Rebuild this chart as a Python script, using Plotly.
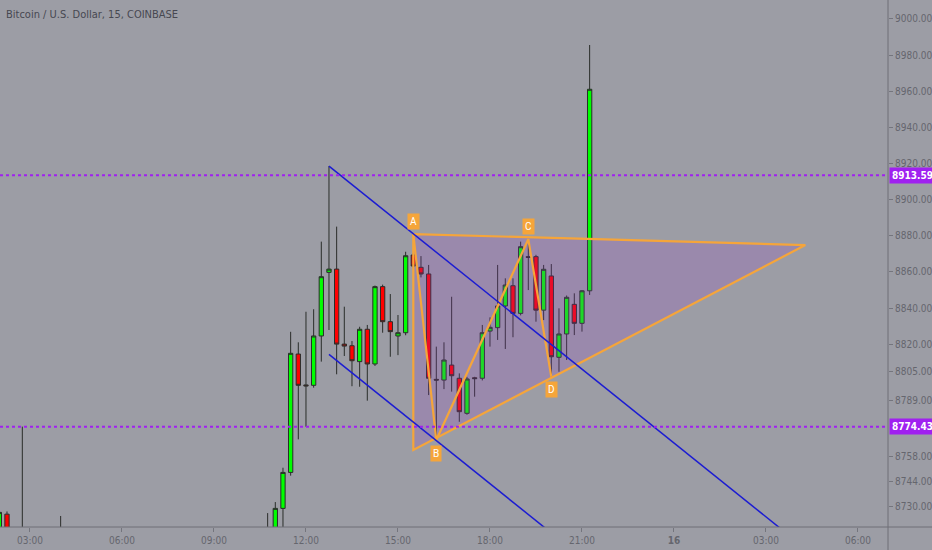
import plotly.graph_objects as go

# 15 minute candles, Bitcoin / U.S. Dollar on Coinbase
times = [
    "2020-01-15 02:00", "2020-01-15 02:15", "2020-01-15 02:45", "2020-01-15 04:00",
    "2020-01-15 10:45", "2020-01-15 11:00", "2020-01-15 11:15", "2020-01-15 11:30",
    "2020-01-15 11:45", "2020-01-15 12:00", "2020-01-15 12:15", "2020-01-15 12:30",
    "2020-01-15 12:45", "2020-01-15 13:00", "2020-01-15 13:15", "2020-01-15 13:30",
    "2020-01-15 13:45", "2020-01-15 14:00", "2020-01-15 14:15", "2020-01-15 14:30",
    "2020-01-15 14:45", "2020-01-15 15:00", "2020-01-15 15:15", "2020-01-15 15:30",
    "2020-01-15 15:45", "2020-01-15 16:00", "2020-01-15 16:15", "2020-01-15 16:30",
    "2020-01-15 16:45", "2020-01-15 17:00", "2020-01-15 17:15", "2020-01-15 17:30",
    "2020-01-15 17:45", "2020-01-15 18:00", "2020-01-15 18:15", "2020-01-15 18:30",
    "2020-01-15 18:45", "2020-01-15 19:00", "2020-01-15 19:15", "2020-01-15 19:30",
    "2020-01-15 19:45", "2020-01-15 20:00", "2020-01-15 20:15", "2020-01-15 20:30",
    "2020-01-15 20:45", "2020-01-15 21:00", "2020-01-15 21:15",
]
opens = [
    8705, 8726, 8708, 8712, 8705, 8712, 8729.2, 8749.1,
    8814.6, 8797.5, 8797.3, 8824.6, 8859.8, 8861.6, 8820.1, 8819.2,
    8810.4, 8828.3, 8809.1, 8851.9, 8832.5, 8824.6, 8826.4, 8869.4,
    8862.6, 8858.9, 8800.6, 8800.2, 8808.5, 8801.2, 8781.8, 8801.5,
    8801.2, 8827.3, 8829.2, 8841.2, 8852.4, 8837.1, 8868.5, 8868.5,
    8838.9, 8857.8, 8812.8, 8825.7, 8842.1, 8831.6, 8849.6,
]
highs = [
    8729, 8727.5, 8774.43, 8725, 8726.6, 8732.7, 8751.7, 8826.9,
    8821.1, 8838.0, 8839.4, 8876.8, 8918.6, 8885.1, 8840.8, 8821.8,
    8829.7, 8830.7, 8852.5, 8853.0, 8847.8, 8836.2, 8871.2, 8870.5,
    8868.8, 8863.9, 8818.7, 8821.1, 8846.3, 8803.9, 8802.0, 8802.0,
    8830.7, 8834.9, 8863.9, 8856.5, 8856.5, 8876.8, 8878.1, 8869.5,
    8863.9, 8864.4, 8839.9, 8847.0, 8848.2, 8850.0, 8985.6,
]
lows = [
    8698, 8700, 8696, 8700, 8695, 8706, 8714, 8747.3,
    8767.4, 8774.4, 8796.0, 8810.4, 8827.9, 8803.4, 8813.5, 8796.8,
    8796.5, 8788.8, 8808.0, 8826.4, 8813.1, 8814.0, 8825.0, 8862.0,
    8857.0, 8791.9, 8767.0, 8795.2, 8793.8, 8777.1, 8781.0, 8791.0,
    8800.0, 8818.7, 8822.4, 8817.4, 8823.9, 8836.0, 8850.0, 8832.5,
    8833.4, 8802.0, 8804.8, 8811.3, 8825.1, 8827.0, 8847.3,
]
closes = [
    8727, 8706, 8712, 8706, 8712, 8729.2, 8749.1, 8815.0,
    8797.3, 8797.0, 8824.6, 8857.4, 8861.6, 8820.1, 8819.0, 8810.9,
    8828.3, 8809.1, 8851.9, 8832.5, 8827.0, 8826.4, 8869.0, 8863.3,
    8858.9, 8801.2, 8800.2, 8811.3, 8802.6, 8782.7, 8800.8, 8801.0,
    8826.4, 8829.4, 8841.2, 8852.8, 8837.1, 8874.0, 8868.1, 8838.9,
    8861.5, 8813.1, 8825.7, 8846.0, 8831.6, 8849.6, 8961.1,
]

# horizontal price levels
levels = [8913.59, 8774.43]

# parallel channel lines (start, end)
chan1_t = ["2020-01-15 12:45", "2020-01-16 04:00"]
chan1_p = [8918.6, 8710.9]
chan2_t = ["2020-01-15 12:45", "2020-01-15 20:00"]
chan2_p = [8814.4, 8715.6]

# triangle drawing
tri_t = ["2020-01-15 15:30", "2020-01-16 04:17", "2020-01-15 15:30", "2020-01-15 15:30"]
tri_p = [8881.0, 8874.9, 8761.5, 8881.0]

# ABCD pattern
abcd_names = ["A", "B", "C", "D"]
abcd_t = ["2020-01-15 15:30", "2020-01-15 16:15", "2020-01-15 19:15", "2020-01-15 20:00"]
abcd_p = [8881.0, 8767.0, 8878.1, 8802.0]

# axis ticks
price_ticks = [9000, 8980, 8960, 8940, 8920, 8900, 8880, 8860, 8840, 8820,
               8805, 8789, 8758, 8744, 8730]
time_ticks = [
    "2020-01-15 03:00", "2020-01-15 06:00", "2020-01-15 09:00", "2020-01-15 12:00",
    "2020-01-15 15:00", "2020-01-15 18:00", "2020-01-15 21:00", "2020-01-16 00:00",
    "2020-01-16 03:00", "2020-01-16 06:00",
]
time_labels = ["03:00", "06:00", "09:00", "12:00", "15:00", "18:00", "21:00",
               "<b>16</b>", "03:00", "06:00"]

BG = "#9c9da5"
AXIS_TXT = "#65666e"
ORANGE = "#f5a53a"
BLUE = "#1c1cd2"
VIOLET = "#a020f0"
NARROW = "Liberation Sans Narrow, DejaVu Sans Condensed, Arial Narrow, sans-serif"

fig = go.Figure()

fig.add_trace(go.Candlestick(
    x=times, open=opens, high=highs, low=lows, close=closes,
    increasing=dict(fillcolor="#00ff00", line=dict(color="#2a2d2a", width=1)),
    decreasing=dict(fillcolor="#ff0000", line=dict(color="#2a2d2a", width=1)),
    whiskerwidth=0,
    showlegend=False,
    hoverinfo="skip",
))

for lv in levels:
    fig.add_hline(y=lv, line=dict(color=VIOLET, dash="dot", width=2))

fig.add_trace(go.Scatter(
    x=tri_t, y=tri_p, mode="lines", fill="toself",
    fillcolor="rgba(150,60,200,0.2)",
    line=dict(color=ORANGE, width=2.2),
    showlegend=False, hoverinfo="skip",
))

fig.add_trace(go.Scatter(
    x=abcd_t, y=abcd_p, mode="lines",
    line=dict(color=ORANGE, width=2.2),
    showlegend=False, hoverinfo="skip",
))

for ct, cp in ((chan1_t, chan1_p), (chan2_t, chan2_p)):
    fig.add_trace(go.Scatter(
        x=ct, y=cp, mode="lines",
        line=dict(color=BLUE, width=1.5),
        showlegend=False, hoverinfo="skip",
    ))

# point labels of the ABCD pattern
for name, t, p in zip(abcd_names, abcd_t, abcd_p):
    up = name in ("A", "C")
    fig.add_annotation(
        x=t, y=p, text=name, showarrow=False,
        yshift=13 if up else -13,
        font=dict(color="white", size=10, family="Roboto, sans-serif"),
        bgcolor=ORANGE, borderpad=2,
    )

# price level tags on the right scale
for lv in levels:
    fig.add_annotation(
        xref="paper", x=1, xanchor="left", xshift=1,
        y=lv, yref="y", text=f"<b>{lv:.2f}</b>", showarrow=False,
        font=dict(color="white", size=10, family=NARROW),
        bgcolor=VIOLET, borderpad=2,
    )

fig.add_annotation(
    xref="paper", yref="paper", x=0, y=1, xanchor="left", yanchor="top",
    xshift=4, yshift=-6, showarrow=False,
    text="Bitcoin / U.S. Dollar, 15, COINBASE",
    font=dict(color="#474851", size=11, family=NARROW),
)

# scale borders running out into the margins, like the trading terminal
fig.add_shape(type="line", xref="paper", yref="paper", x0=1, x1=1, y0=-0.05, y1=1,
              line=dict(color="#6e6f77", width=1))
fig.add_shape(type="line", xref="paper", yref="paper", x0=0, x1=1.05, y0=0, y1=0,
              line=dict(color="#6e6f77", width=1))

fig.update_layout(
    width=932,
    height=550,
    margin=dict(l=0, r=41, t=0, b=23),
    paper_bgcolor=BG,
    plot_bgcolor=BG,
    boxgap=0.2,
    font=dict(family=NARROW, size=10, color=AXIS_TXT),
)
fig.update_xaxes(
    type="date",
    range=["2020-01-15 02:01:20", "2020-01-16 06:58:45"],
    rangeslider_visible=False,
    showgrid=False, zeroline=False,
    tickvals=time_ticks, ticktext=time_labels,
    ticks="outside", ticklen=4, tickcolor="#74757d",
    showline=False,
    tickfont=dict(size=10, color=AXIS_TXT),
)
fig.update_yaxes(
    side="right",
    range=[8718.9, 9010.5],
    showgrid=False, zeroline=False,
    tickvals=price_ticks, ticktext=[f"{v:.2f}" for v in price_ticks],
    ticks="outside", ticklen=4, tickcolor="#74757d",
    showline=False,
    tickfont=dict(size=10, color=AXIS_TXT),
)

# the page margin would push the 932x550 figure out of the window
fig.write_html(
    "out.html",
    config={"displayModeBar": False},
    post_script="document.body.style.margin='0';document.body.style.overflow='hidden';",
)
